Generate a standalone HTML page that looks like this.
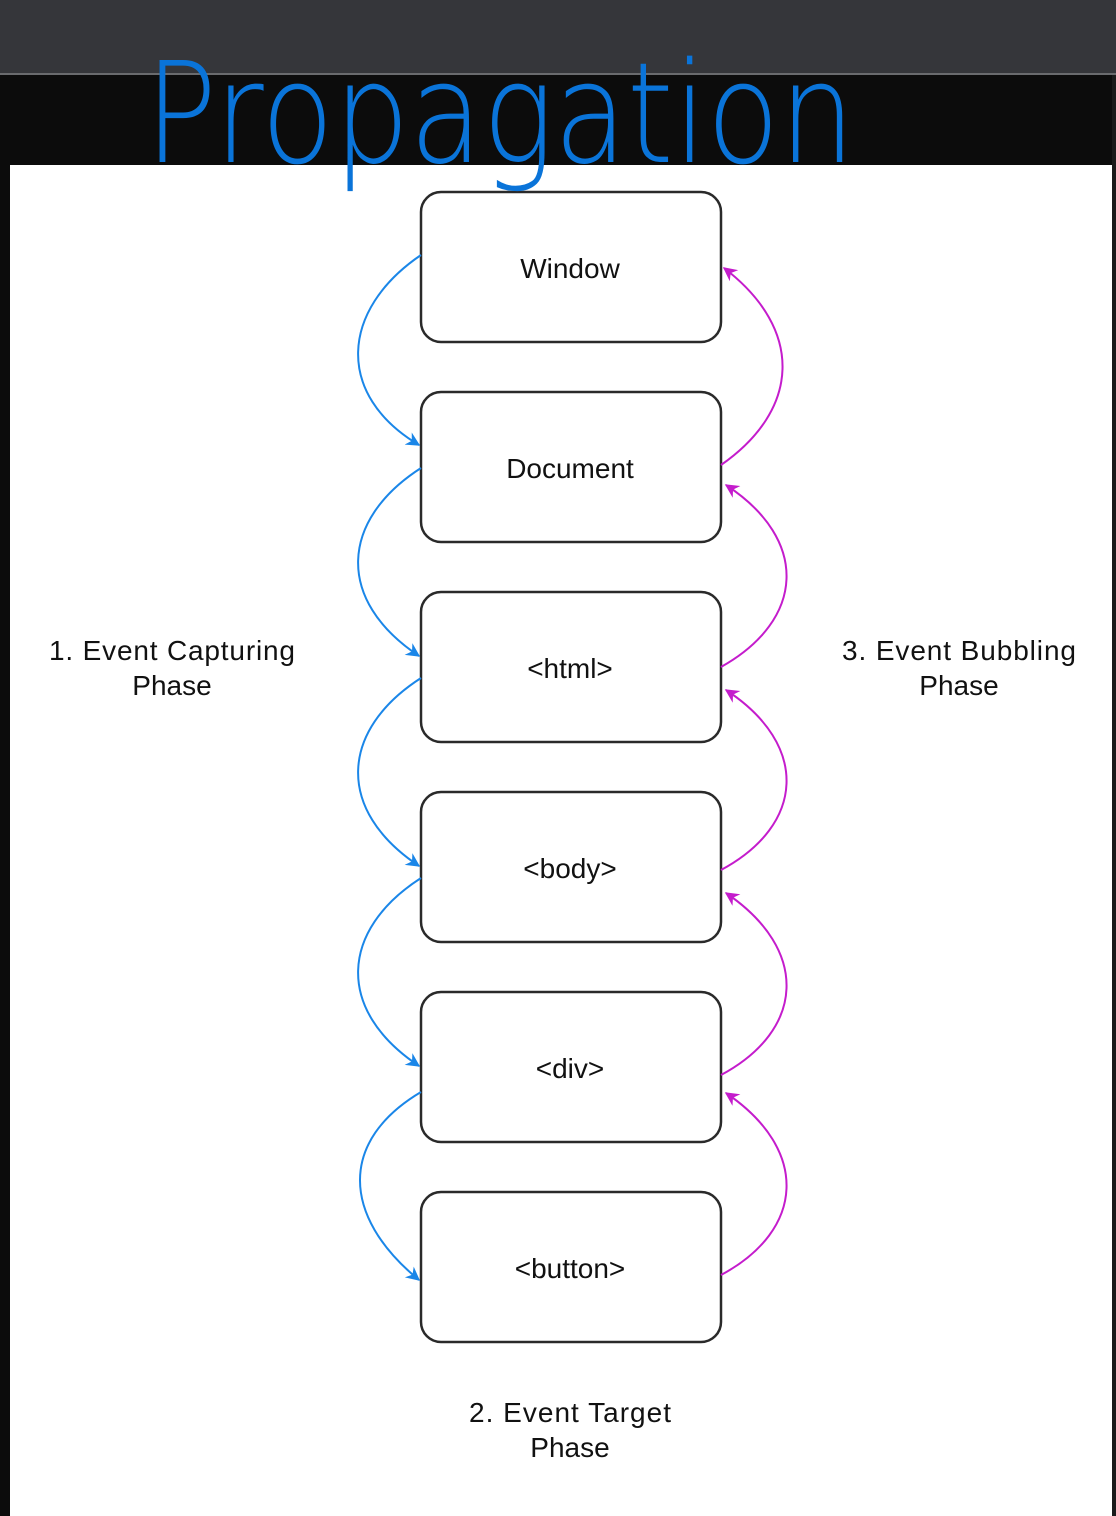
<!DOCTYPE html>
<html><head><meta charset="utf-8"><style>
html,body{margin:0;padding:0;background:#0c0c0c;}
svg{display:block}
</style></head><body>
<svg width="1116" height="1516" viewBox="0 0 1116 1516" xmlns="http://www.w3.org/2000/svg">
<defs>
<marker id="ab" viewBox="0 0 10 10" refX="9" refY="5" markerWidth="16" markerHeight="14" orient="auto-start-reverse" markerUnits="userSpaceOnUse"><path d="M0,0 L10,5 L0,10 L3,5 z" fill="#1a86e8"/></marker>
<marker id="am" viewBox="0 0 10 10" refX="9" refY="5" markerWidth="16" markerHeight="14" orient="auto-start-reverse" markerUnits="userSpaceOnUse"><path d="M0,0 L10,5 L0,10 L3,5 z" fill="#c41ccc"/></marker>
</defs>
<rect x="0" y="0" width="1116" height="73" fill="#35363a"/>
<rect x="0" y="73" width="1116" height="2" fill="#6a6b6e"/>
<rect x="0" y="75" width="1116" height="90" fill="#0c0c0c"/>
<rect x="10" y="165" width="1102" height="1351" fill="#ffffff"/>
<rect x="1112" y="75" width="4" height="1441" fill="#1a1a1a"/>

<g fill="#fff" stroke="#2a2a2a" stroke-width="2.5">
<rect x="421" y="192" width="300" height="150" rx="20"/>
<rect x="421" y="392" width="300" height="150" rx="20"/>
<rect x="421" y="592" width="300" height="150" rx="20"/>
<rect x="421" y="792" width="300" height="150" rx="20"/>
<rect x="421" y="992" width="300" height="150" rx="20"/>
<rect x="421" y="1192" width="300" height="150" rx="20"/>
</g>
<g font-family="Liberation Sans, sans-serif" font-size="28" fill="#111" text-anchor="middle">
<text x="570" y="278">Window</text>
<text x="570" y="478">Document</text>
<text x="570" y="678">&lt;html&gt;</text>
<text x="570" y="878">&lt;body&gt;</text>
<text x="570" y="1078">&lt;div&gt;</text>
<text x="570" y="1278">&lt;button&gt;</text>
<text x="172" y="660" textLength="246">1. Event Capturing</text>
<text x="172" y="695">Phase</text>
<text x="959" y="660" textLength="234">3. Event Bubbling</text>
<text x="959" y="695">Phase</text>
<text x="570" y="1422" textLength="202">2. Event Target</text>
<text x="570" y="1457">Phase</text>
</g>

<g fill="none" stroke="#1a86e8" stroke-width="2" marker-end="url(#ab)">
<path d="M421,255 C340,310 335,395 419,445"/>
<path d="M421,468 C340,520 335,600 419,656"/>
<path d="M421,678 C340,730 335,810 419,866"/>
<path d="M421,878 C340,930 335,1010 419,1066"/>
<path d="M421,1092 C340,1140 340,1215 419,1280"/>
</g>
<g fill="none" stroke="#c41ccc" stroke-width="2" marker-end="url(#am)">
<path d="M721,465 C800,410 805,330 724,268"/>
<path d="M721,667 C805,620 810,540 726,485"/>
<path d="M721,870 C805,825 810,745 726,690"/>
<path d="M721,1075 C805,1030 810,950 726,893"/>
<path d="M721,1275 C805,1230 810,1150 726,1093"/>
</g>

<text x="145" y="162" font-family="DejaVu Sans, Liberation Sans, sans-serif" font-size="140" font-weight="200" fill="#0a74d9" textLength="710" lengthAdjust="spacingAndGlyphs">Propagation</text>
</svg>
</body></html>
